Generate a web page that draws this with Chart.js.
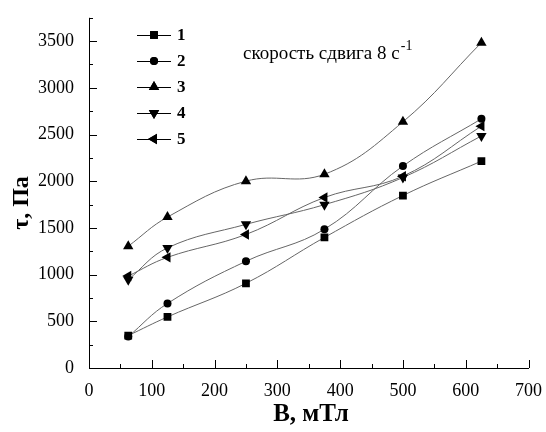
<!DOCTYPE html>
<html><head><meta charset="utf-8">
<script src="https://cdn.jsdelivr.net/npm/chart.js@4.4.0/dist/chart.umd.min.js"></script>
<style>html,body{margin:0;padding:0;background:#fff}#wrap{width:546px;height:432px}</style>
</head><body><div id="wrap"><canvas id="c" width="546" height="432"></canvas></div>
<script>
const xValues = [62.5, 125, 250, 375, 500, 625];
const series1 = [347, 547, 907, 1398, 1847, 2215];
const series2 = [336, 691, 1143, 1486, 2163, 2668];
const series3 = [1304, 1616, 2001, 2075, 2636, 3484];
const series4 = [946, 1286, 1538, 1749, 2040, 2485];
const series5 = [985, 1185, 1430, 1826, 2054, 2590];
const seriesNames = ['1', '2', '3', '4', '5'];
const xTicks = [0, 100, 200, 300, 400, 500, 600, 700];
const yTicks = [0, 500, 1000, 1500, 2000, 2500, 3000, 3500];

const serif = "'Liberation Serif', 'Times New Roman', serif";
const styles = [
  {pointStyle: 'rect', pointRadius: 5.5, pointRotation: 0},
  {pointStyle: 'circle', pointRadius: 4, pointRotation: 0},
  {pointStyle: 'triangle', pointRadius: 6, pointRotation: 0},
  {pointStyle: 'triangle', pointRadius: 6, pointRotation: 180},
  {pointStyle: 'triangle', pointRadius: 6, pointRotation: 270}
];
const allSeries = [series1, series2, series3, series4, series5];
const datasets = allSeries.map((s, i) => ({
  label: seriesNames[i],
  data: s.map((v, j) => ({x: xValues[j], y: v})),
  borderColor: '#666',
  borderWidth: 1,
  backgroundColor: '#000',
  pointBackgroundColor: '#000',
  pointBorderColor: '#000',
  pointBorderWidth: 0,
  pointStyle: styles[i].pointStyle,
  pointRadius: styles[i].pointRadius,
  pointRotation: styles[i].pointRotation,
  tension: 0.4,
  fill: false
}));

const decor = {
  id: 'decor',
  afterDraw(chart) {
    const ctx = chart.ctx;
    const xs = chart.scales.x, ys = chart.scales.y;
    const ca = chart.chartArea;
    ctx.save();
    ctx.strokeStyle = '#000';
    ctx.lineWidth = 1;
    ctx.beginPath();
    ctx.moveTo(ca.left + 0.5, ca.top);
    ctx.lineTo(ca.left + 0.5, ca.bottom + 0.5);
    ctx.lineTo(ca.right + 0.5, ca.bottom + 0.5);
    ctx.stroke();
    ctx.beginPath();
    for (let v = 0; v <= 3750; v += 250) {
      const y = Math.round(ys.getPixelForValue(v)) + 0.5;
      const len = (v % 500 === 0) ? 8 : 4;
      ctx.moveTo(ca.left, y); ctx.lineTo(ca.left + len, y);
    }
    for (let v = 0; v <= 700; v += 50) {
      const x = Math.round(xs.getPixelForValue(v)) + 0.5;
      const len = (v % 100 === 0) ? 8 : 4;
      ctx.moveTo(x, ca.bottom); ctx.lineTo(x, ca.bottom - len);
    }
    ctx.stroke();
    ctx.fillStyle = '#000';
    ctx.font = 'bold 25px ' + serif;
    ctx.textAlign = 'center';
    ctx.textBaseline = 'middle';
    ctx.fillText('B, мТл', 311, 415);
    ctx.save();
    ctx.translate(22, 203);
    ctx.rotate(-Math.PI / 2);
    ctx.font = 'bold 24px ' + serif;
    ctx.fillText('τ, Па', 0, 0);
    ctx.restore();
    const ly = [35, 61, 87, 113, 139];
    chart.data.datasets.forEach((ds, i) => {
      const y = ly[i];
      ctx.strokeStyle = '#000';
      ctx.beginPath();
      ctx.moveTo(137, y + 0.5); ctx.lineTo(171, y + 0.5);
      ctx.stroke();
      Chart.helpers.drawPoint(ctx, {pointStyle: ds.pointStyle, radius: ds.pointRadius, rotation: ds.pointRotation, borderWidth: 0}, 154, y);
      ctx.fillStyle = '#000';
      ctx.fill();
      ctx.font = 'bold 17px ' + serif;
      ctx.textAlign = 'left';
      ctx.textBaseline = 'middle';
      ctx.fillText(ds.label, 177, y + 1);
    });
    ctx.font = '19px ' + serif;
    ctx.textAlign = 'left';
    ctx.textBaseline = 'alphabetic';
    const t = 'скорость сдвига 8 с';
    ctx.fillText(t, 243, 59);
    const w = ctx.measureText(t).width;
    ctx.font = '14px ' + serif;
    ctx.fillText('-1', 243 + w + 1, 50);
    ctx.restore();
  }
};

new Chart(document.getElementById('c'), {
  type: 'line',
  data: {datasets},
  options: {
    responsive: false,
    animation: false,
    devicePixelRatio: 1,
    layout: {padding: {top: 11, right: 11, left: 0, bottom: 0}},
    plugins: {legend: {display: false}, tooltip: {enabled: false}},
    scales: {
      x: {
        type: 'linear', min: 0, max: 700,
        afterBuildTicks: (s) => { s.ticks = xTicks.map(v => ({value: v})); },
        afterFit: (s) => { s.height = 64; },
        grid: {display: false}, border: {display: false},
        ticks: {font: {family: serif, size: 18}, color: '#000', padding: 4, maxRotation: 0, autoSkip: false,
          callback: (v) => String(v)}
      },
      y: {
        type: 'linear', min: 0, max: 3750,
        afterBuildTicks: (s) => { s.ticks = yTicks.map(v => ({value: v})); },
        afterFit: (s) => { s.width = 89; },
        grid: {display: false}, border: {display: false},
        ticks: {font: {family: serif, size: 18}, color: '#000', padding: 7, autoSkip: false,
          callback: (v) => String(v)}
      }
    }
  },
  plugins: [decor]
});
</script></body></html>
